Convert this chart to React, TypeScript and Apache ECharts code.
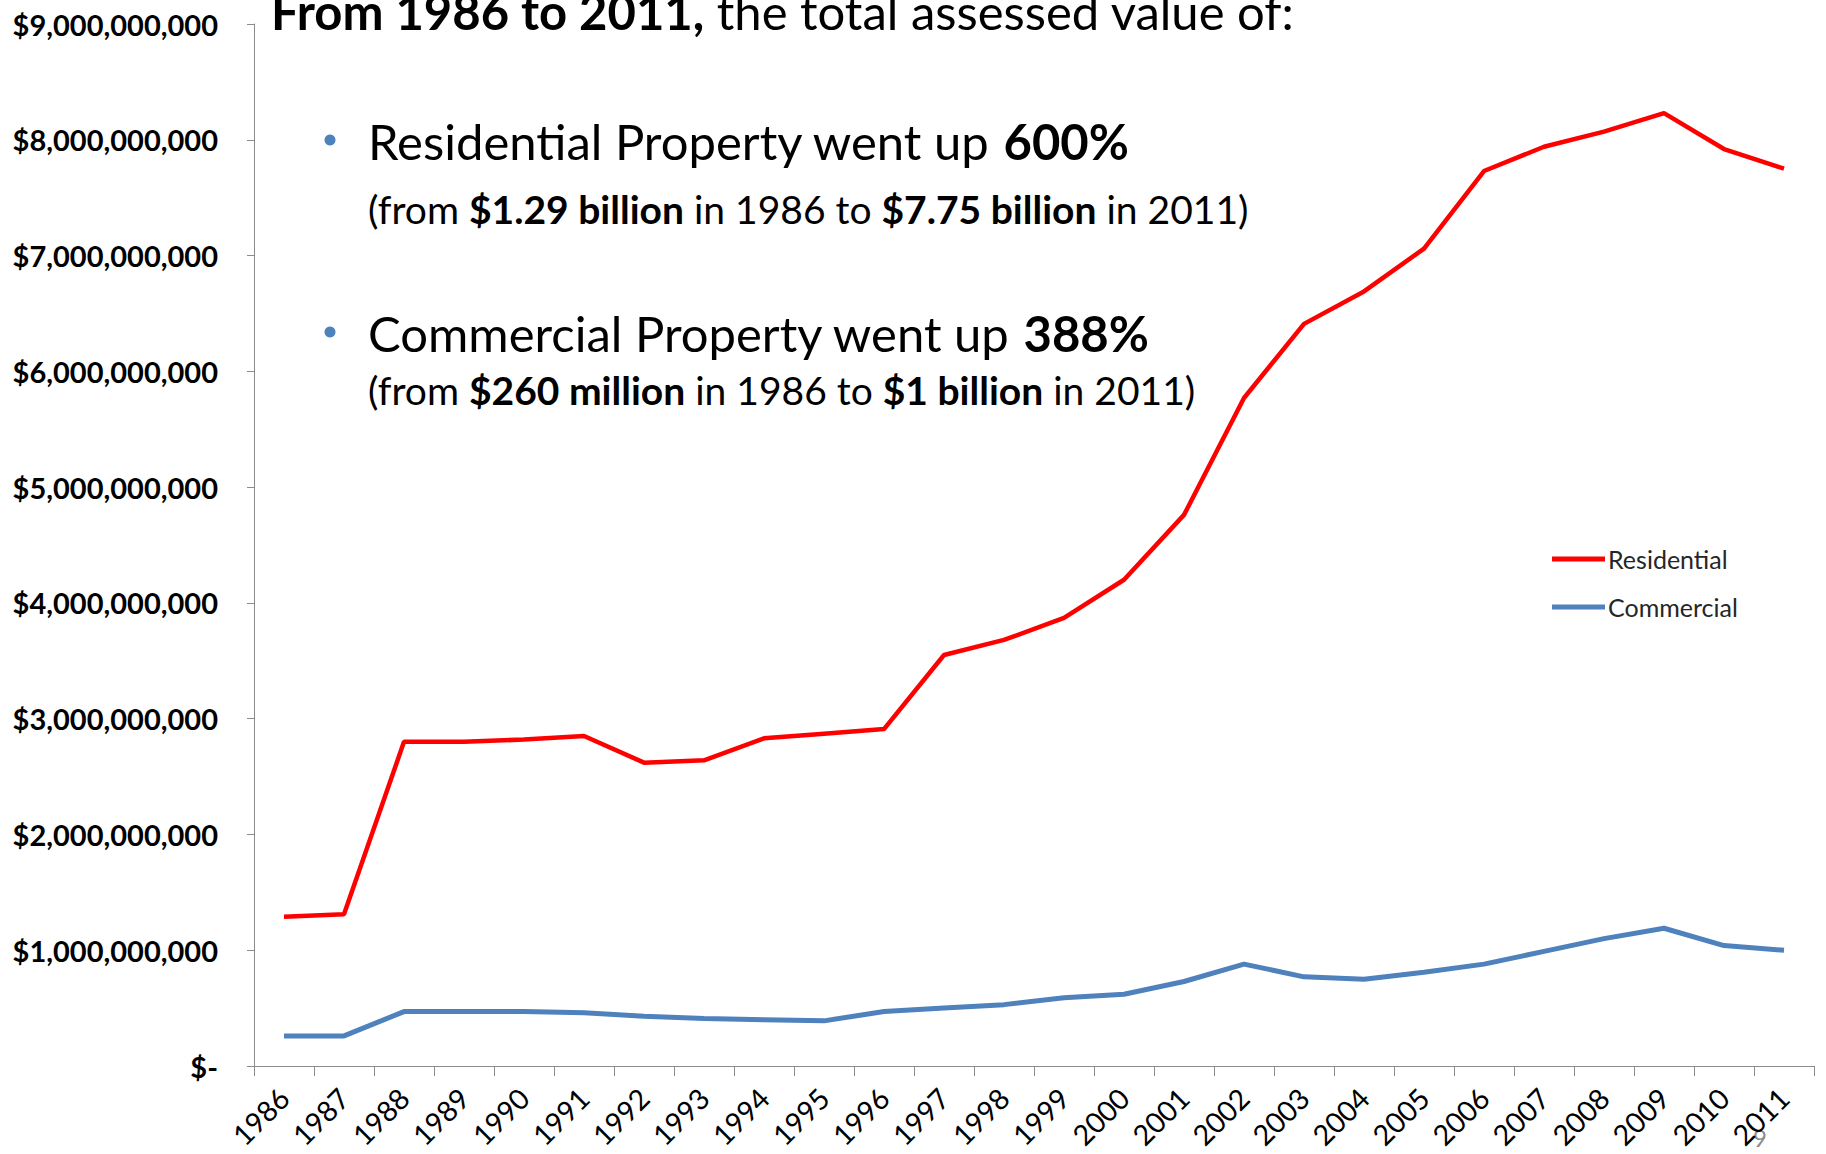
import React, { useEffect, useRef } from "react";
import * as echarts from "echarts";

const years = ["1986","1987","1988","1989","1990","1991","1992","1993","1994","1995","1996","1997","1998","1999","2000","2001","2002","2003","2004","2005","2006","2007","2008","2009","2010","2011"];
const residential = [1.29,1.31,2.80,2.80,2.82,2.85,2.62,2.64,2.83,2.87,2.91,3.55,3.68,3.87,4.20,4.76,5.77,6.41,6.69,7.06,7.73,7.94,8.07,8.23,7.92,7.75].map(v => v * 1e9);
const commercial = [0.26,0.26,0.47,0.47,0.47,0.46,0.43,0.41,0.40,0.39,0.47,0.50,0.53,0.59,0.62,0.73,0.88,0.77,0.75,0.81,0.88,0.99,1.10,1.19,1.04,1.00].map(v => v * 1e9);
const seriesNames = ["Residential", "Commercial"];

const FONT = "Lato";

function fmt(v: number) {
  if (v === 0) return "$-";
  return "$" + Math.round(v).toString().replace(/\B(?=(\d{3})+(?!\d))/g, ",");
}

export default function App() {
  const ref = useRef<HTMLDivElement>(null);
  useEffect(() => {
    const chart = echarts.init(ref.current!, null, { renderer: "svg" });
    chart.setOption({
      animation: false,
      backgroundColor: "#ffffff",
      grid: { left: 254, right: 12, top: 24, bottom: 88, containLabel: false },
      legend: {
        orient: "vertical",
        left: 1552,
        top: 544,
        padding: 0,
        icon: "rect",
        itemWidth: 53,
        itemHeight: 5,
        itemGap: 18,
        data: seriesNames,
        textStyle: { fontFamily: FONT, fontSize: 25, lineHeight: 30, color: "#262626", padding: [0, 0, 0, -2] },
      },
      xAxis: {
        type: "category",
        data: years,
        boundaryGap: true,
        axisLine: { lineStyle: { color: "#8c8c8c", width: 1 } },
        axisTick: { show: true, length: 10, inside: false, alignWithLabel: false, lineStyle: { color: "#8c8c8c" } },
        axisLabel: { rotate: 45, interval: 0, margin: 27, fontFamily: FONT, fontSize: 28.5, color: "#000" },
        splitLine: { show: false },
      },
      yAxis: {
        type: "value",
        min: 0,
        max: 9e9,
        interval: 1e9,
        axisLine: { show: true, lineStyle: { color: "#8c8c8c", width: 1 } },
        axisTick: { show: true, length: 7, lineStyle: { color: "#8c8c8c" } },
        axisLabel: { formatter: fmt, margin: 36, fontFamily: FONT, fontWeight: "bold", fontSize: 29, color: "#000" },
        splitLine: { show: false },
      },
      series: [
        {
          name: seriesNames[0],
          type: "line",
          data: residential,
          symbol: "none",
          lineStyle: { color: "#ff0000", width: 4.5 },
          itemStyle: { color: "#ff0000" },
        },
        {
          name: seriesNames[1],
          type: "line",
          data: commercial,
          symbol: "none",
          lineStyle: { color: "#4f81bd", width: 5 },
          itemStyle: { color: "#4f81bd" },
        },
      ],
      graphic: [
        {
          type: "text",
          x: 271,
          y: 11,
          style: {
            text: "{b|From 1986 to 2011,} the total assessed value of:",
            fontFamily: FONT,
            fontSize: 49,
            fill: "#000",
            verticalAlign: "middle",
            rich: { b: { fontFamily: FONT, fontSize: 49, fontWeight: "bold", fill: "#000" } },
          },
        },
        { type: "circle", shape: { cx: 330, cy: 140, r: 5.5 }, style: { fill: "#4f81bd" } },
        {
          type: "text",
          x: 368,
          y: 141,
          style: {
            text: "Residential Property went up {b|600%}",
            fontFamily: FONT,
            fontSize: 49,
            fill: "#000",
            verticalAlign: "middle",
            rich: { b: { fontFamily: FONT, fontSize: 49, fontWeight: "bold", fill: "#000" } },
          },
        },
        {
          type: "text",
          x: 368,
          y: 209,
          style: {
            text: "(from {b|$1.29 billion} in 1986 to {b|$7.75 billion} in 2011)",
            fontFamily: FONT,
            fontSize: 39,
            fill: "#000",
            verticalAlign: "middle",
            rich: { b: { fontFamily: FONT, fontSize: 39, fontWeight: "bold", fill: "#000" } },
          },
        },
        { type: "circle", shape: { cx: 330, cy: 332, r: 5.5 }, style: { fill: "#4f81bd" } },
        {
          type: "text",
          x: 368,
          y: 333,
          style: {
            text: "Commercial Property went up {b|388%}",
            fontFamily: FONT,
            fontSize: 49,
            fill: "#000",
            verticalAlign: "middle",
            rich: { b: { fontFamily: FONT, fontSize: 49, fontWeight: "bold", fill: "#000" } },
          },
        },
        {
          type: "text",
          x: 368,
          y: 390,
          style: {
            text: "(from {b|$260 million} in 1986 to {b|$1 billion} in 2011)",
            fontFamily: FONT,
            fontSize: 39,
            fill: "#000",
            verticalAlign: "middle",
            rich: { b: { fontFamily: FONT, fontSize: 39, fontWeight: "bold", fill: "#000" } },
          },
        },
        {
          type: "text",
          x: 1760,
          y: 1137,
          style: { text: "9", fontFamily: FONT, fontSize: 24, fill: "#8c8c8c", align: "center", verticalAlign: "middle" },
        },
      ],
    });
    return () => chart.dispose();
  }, []);
  return (
    <div
      ref={ref}
      style={{ position: "fixed", left: 0, top: 0, width: 1826, height: 1154, background: "#fff" }}
    />
  );
}
